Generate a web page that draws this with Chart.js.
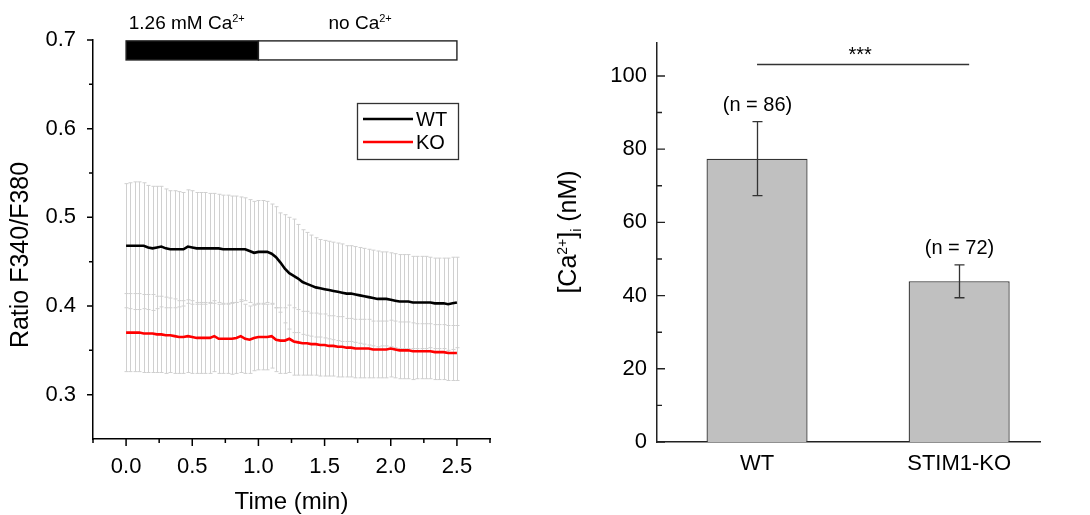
<!DOCTYPE html>
<html>
<head>
<meta charset="utf-8">
<script src="https://cdn.jsdelivr.net/npm/chart.js@4.4.0/dist/chart.umd.min.js"></script>
<style>
  html, body { margin: 0; padding: 0; background: #fff; }
  #wrap { position: relative; width: 1090px; height: 515px; }
  #left { position: absolute; left: 0; top: 0; }
  #right { position: absolute; left: 535px; top: 0; }
</style>
</head>
<body>
<div id="wrap">
  <canvas id="left" width="535" height="515"></canvas>
  <canvas id="right" width="555" height="515"></canvas>
</div>
<script>
const FONT = '"Liberation Sans", Arial, sans-serif';

// ---- trace: Fura-2 ratio, one sample every 2 s ----
const timeSec = [0,2,4,6,8,10,12,14,16,18,20,22,24,26,28,30,32,34,36,38,
  40,42,44,46,48,50,52,54,56,58,60,62,64,66,68,70,72,74,76,78,
  80,82,84,86,88,90,92,94,96,98,100,102,104,106,108,110,112,114,116,118,
  120,122,124,126,128,130,132,134,136,138,140,142,144,146,148,150];

const wtRatio = [.468,.468,.468,.468,.468,.466,.465,.466,.467,.465,
  .464,.464,.464,.464,.467,.466,.465,.465,.465,.465,
  .465,.465,.464,.464,.464,.464,.464,.464,.462,.460,
  .461,.461,.461,.459,.455,.449,.442,.437,.434,.431,
  .427,.425,.423,.421,.420,.419,.418,.417,.416,.415,
  .414,.414,.413,.412,.411,.410,.409,.408,.408,.408,
  .407,.406,.405,.405,.405,.404,.404,.404,.404,.404,
  .403,.403,.403,.402,.403,.404];
const wtSd = [.070,.071,.072,.072,.071,.070,.070,.069,.068,.067,
  .066,.066,.065,.064,.064,.064,.063,.063,.063,.062,
  .062,.061,.061,.061,.060,.060,.059,.058,.058,.058,
  .058,.058,.057,.056,.057,.056,.061,.063,.064,.061,
  .059,.058,.057,.056,.055,.055,.055,.055,.055,.055,
  .054,.054,.054,.054,.054,.054,.054,.054,.053,.053,
  .053,.053,.053,.053,.053,.052,.052,.052,.052,.051,
  .051,.051,.051,.052,.052,.051];

const koRatio = [.370,.370,.370,.370,.369,.369,.369,.368,.368,.367,
  .367,.366,.365,.365,.366,.365,.364,.364,.364,.364,
  .366,.363,.363,.363,.363,.364,.366,.363,.362,.364,
  .365,.365,.365,.366,.362,.361,.361,.363,.360,.359,
  .358,.358,.357,.357,.356,.356,.355,.355,.354,.354,
  .353,.353,.352,.352,.352,.352,.351,.351,.351,.351,
  .352,.351,.350,.350,.350,.349,.349,.349,.349,.349,
  .348,.348,.348,.347,.347,.347];
const koSd = [.044,.044,.044,.044,.044,.044,.044,.043,.043,.043,
  .042,.042,.041,.041,.041,.041,.040,.040,.040,.040,
  .040,.039,.039,.039,.040,.040,.041,.039,.038,.037,
  .037,.037,.037,.036,.036,.037,.037,.038,.038,.037,
  .036,.036,.035,.035,.035,.035,.034,.034,.034,.034,
  .033,.033,.033,.033,.033,.033,.032,.032,.032,.032,
  .032,.032,.032,.032,.032,.032,.031,.031,.031,.031,
  .031,.031,.031,.031,.031,.031];

const timeTicks = [0, 0.5, 1.0, 1.5, 2.0, 2.5];
const ratioTicks = [0.3, 0.4, 0.5, 0.6, 0.7];

// bath solution (min)
const solutionNames = ['1.26 mM Ca', 'no Ca'];
const solutionStart = [0, 1.0];
const solutionEnd = [1.0, 2.5];

// ---- resting [Ca2+]i ----
const groups = ['WT', 'STIM1-KO'];
const caMean = [77.4, 43.9];
const caSd = [10.1, 4.5];
const caN = [86, 72];
const caTicks = [0, 20, 40, 60, 80, 100];
const sigLevel = 103.3;
const sigLabel = '***';

// text with super/subscripts; parts = [[text, 'sup'|'sub'|'']]
function richText(ctx, parts, x, y, size, opts) {
  const o = Object.assign({ align: 'center', rise: 5, drop: 4, rotate: false }, opts);
  ctx.save();
  ctx.translate(x, y);
  if (o.rotate) ctx.rotate(-Math.PI / 2);
  const small = Math.round(size * 0.58);
  const fontOf = p => (p[1] ? small : size) + 'px ' + FONT;
  let w = 0;
  for (const p of parts) { ctx.font = fontOf(p); w += ctx.measureText(p[0]).width; }
  let cx = o.align === 'center' ? -w / 2 : 0;
  ctx.textAlign = 'left';
  ctx.textBaseline = 'alphabetic';
  ctx.fillStyle = '#000';
  for (const p of parts) {
    ctx.font = fontOf(p);
    const dy = p[1] === 'sup' ? -o.rise : p[1] === 'sub' ? o.drop : 0;
    ctx.fillText(p[0], cx, dy);
    cx += ctx.measureText(p[0]).width;
  }
  ctx.restore();
}

function tickMarks(ctx, scale, values, len, dir) {
  ctx.beginPath();
  for (const v of values) {
    const p = scale.getPixelForValue(v);
    if (scale.isHorizontal()) {
      ctx.moveTo(p, scale.top); ctx.lineTo(p, scale.top + len * dir);
    } else {
      ctx.moveTo(scale.right, p); ctx.lineTo(scale.right + len * dir, p);
    }
  }
  ctx.stroke();
}

const traceDecor = {
  id: 'traceDecor',
  beforeDatasetsDraw(chart) {
    const { ctx, scales: { x, y } } = chart;
    ctx.save();
    ctx.strokeStyle = '#d0d0d0';
    ctx.lineWidth = 1;
    chart.data.datasets.forEach(ds => {
      ds.data.forEach((p, i) => {
        const px = Math.round(x.getPixelForValue(p.x)) + 0.5;
        const top = y.getPixelForValue(p.y + ds.sd[i]);
        const bot = y.getPixelForValue(p.y - ds.sd[i]);
        ctx.beginPath();
        ctx.moveTo(px, top); ctx.lineTo(px, bot);
        ctx.moveTo(px - 2, top); ctx.lineTo(px + 2, top);
        ctx.moveTo(px - 2, bot); ctx.lineTo(px + 2, bot);
        ctx.stroke();
      });
    });
    ctx.restore();
  },
  afterDraw(chart) {
    const { ctx, scales: { x, y } } = chart;
    ctx.save();
    ctx.strokeStyle = '#000';
    ctx.lineWidth = 1.5;
    tickMarks(ctx, x, timeTicks, 7, 1);
    tickMarks(ctx, x, [-0.25, 0.25, 0.75, 1.25, 1.75, 2.25, 2.75], 4, 1);
    tickMarks(ctx, y, ratioTicks, 6, -1);
    tickMarks(ctx, y, [0.35, 0.45, 0.55, 0.65], 4, -1);

    // solution bar
    const yT = y.getPixelForValue(0.699), yB = y.getPixelForValue(0.6775);
    solutionNames.forEach((name, i) => {
      const x0 = x.getPixelForValue(solutionStart[i]);
      const x1 = x.getPixelForValue(solutionEnd[i]);
      ctx.fillStyle = i === 0 ? '#000' : '#fff';
      ctx.fillRect(x0, yT, x1 - x0, yB - yT);
      ctx.strokeStyle = '#222';
      ctx.lineWidth = 1.4;
      ctx.strokeRect(x0, yT, x1 - x0, yB - yT);
    });
    const labelX = [x.getPixelForValue(0.02), x.getPixelForValue(1.53)];
    solutionNames.forEach((name, i) => {
      richText(ctx, [[name, ''], ['2+', 'sup']], labelX[i], 29, 19, { align: 'left', rise: 7 });
    });

    // legend
    ctx.strokeStyle = '#333';
    ctx.lineWidth = 1.3;
    ctx.strokeRect(357.5, 103.5, 101, 56);
    chart.data.datasets.forEach((ds, i) => {
      const ly = 119 + i * 23;
      ctx.strokeStyle = ds.borderColor;
      ctx.lineWidth = 2.6;
      ctx.beginPath(); ctx.moveTo(363, ly); ctx.lineTo(413, ly); ctx.stroke();
      ctx.fillStyle = '#000';
      ctx.font = '20px ' + FONT;
      ctx.textAlign = 'left';
      ctx.textBaseline = 'alphabetic';
      ctx.fillText(ds.label, 416, ly + 7);
    });

    // axis titles
    richText(ctx, [['Time (min)', '']], (chart.chartArea.left + chart.chartArea.right) / 2, 509, 24);
    richText(ctx, [['Ratio F340/F380', '']], 28, 255, 25, { rotate: true });
    ctx.restore();
  }
};

const barDecor = {
  id: 'barDecor',
  afterDraw(chart) {
    const { ctx, scales: { x, y } } = chart;
    ctx.save();
    ctx.strokeStyle = '#222';
    ctx.lineWidth = 1.4;
    tickMarks(ctx, y, caTicks, 8, 1);
    tickMarks(ctx, y, [10, 30, 50, 70, 90], 5, 1);

    // error bars and n labels
    ctx.strokeStyle = '#333';
    ctx.lineWidth = 1.3;
    caMean.forEach((m, i) => {
      const px = Math.round(x.getPixelForValue(i + 1)) + 0.5;
      const top = y.getPixelForValue(m + caSd[i]);
      const bot = y.getPixelForValue(m - caSd[i]);
      ctx.beginPath();
      ctx.moveTo(px, top); ctx.lineTo(px, bot);
      ctx.moveTo(px - 5, top); ctx.lineTo(px + 5, top);
      ctx.moveTo(px - 5, bot); ctx.lineTo(px + 5, bot);
      ctx.stroke();
      ctx.fillStyle = '#000';
      ctx.font = '20px ' + FONT;
      ctx.textAlign = 'center';
      ctx.textBaseline = 'middle';
      ctx.fillText('(n = ' + caN[i] + ')', px, top - 16);
    });

    // significance
    const sy = Math.round(y.getPixelForValue(sigLevel)) + 0.5;
    const sx0 = x.getPixelForValue(1), sx1 = x.getPixelForValue(2) + 10;
    ctx.beginPath(); ctx.moveTo(sx0, sy); ctx.lineTo(sx1, sy); ctx.stroke();
    ctx.font = '20px ' + FONT;
    ctx.textAlign = 'center';
    ctx.textBaseline = 'alphabetic';
    ctx.fillText(sigLabel, (sx0 + sx1) / 2 - 3, sy - 4);

    richText(ctx, [['[Ca', ''], ['2+', 'sup'], [']', ''], ['i', 'sub'], [' (nM)', '']],
      41, 232, 25, { rotate: true, rise: 9, drop: 5 });
    ctx.restore();
  }
};

const tickFont = { family: FONT, size: 22 };
const noGrid = { display: false, drawTicks: false };

new Chart(document.getElementById('left'), {
  type: 'line',
  data: {
    datasets: [
      { label: 'WT', data: timeSec.map((s, i) => ({ x: s / 60, y: wtRatio[i] })), sd: wtSd,
        borderColor: '#000000', borderWidth: 2.6, pointRadius: 0, tension: 0 },
      { label: 'KO', data: timeSec.map((s, i) => ({ x: s / 60, y: koRatio[i] })), sd: koSd,
        borderColor: '#ff0000', borderWidth: 2.6, pointRadius: 0, tension: 0 }
    ]
  },
  options: {
    responsive: false,
    animation: false,
    devicePixelRatio: 1,
    layout: { padding: { top: 40, right: 45, left: 0, bottom: 0 } },
    plugins: { legend: { display: false }, tooltip: { enabled: false } },
    scales: {
      x: {
        type: 'linear', min: -0.25, max: 2.75,
        grid: noGrid,
        border: { display: true, color: '#000', width: 1.5 },
        ticks: { font: tickFont, color: '#000', padding: 15, maxRotation: 0, autoSkip: false,
          callback: v => v.toFixed(1) },
        afterBuildTicks: s => { s.ticks = timeTicks.map(v => ({ value: v })); },
        afterFit: s => { s.height = 76; }
      },
      y: {
        min: 0.25, max: 0.7,
        grid: noGrid,
        border: { display: true, color: '#000', width: 1.5 },
        ticks: { font: tickFont, color: '#000', padding: 17, autoSkip: false,
          callback: v => v.toFixed(1) },
        afterBuildTicks: s => { s.ticks = ratioTicks.map(v => ({ value: v })); },
        afterFit: s => { s.width = 93; }
      }
    }
  },
  plugins: [traceDecor]
});

new Chart(document.getElementById('right'), {
  type: 'bar',
  data: {
    datasets: [{
      label: '[Ca2+]i',
      data: caMean.map((m, i) => ({ x: i + 1, y: m })),
      backgroundColor: '#c0c0c0',
      borderColor: '#333',
      borderWidth: 1.3,
      barPercentage: 0.5,
      categoryPercentage: 1.0
    }]
  },
  options: {
    responsive: false,
    animation: false,
    devicePixelRatio: 1,
    layout: { padding: { top: 43, right: 50, left: 0, bottom: 0 } },
    plugins: { legend: { display: false }, tooltip: { enabled: false } },
    scales: {
      x: {
        type: 'linear', min: 0.505, max: 2.4, offset: false,
        grid: noGrid,
        border: { display: true, color: '#222', width: 1.5 },
        ticks: { font: tickFont, color: '#000', padding: 9, maxRotation: 0, autoSkip: false,
          callback: v => groups[v - 1] },
        afterBuildTicks: s => { s.ticks = groups.map((g, i) => ({ value: i + 1 })); },
        afterFit: s => { s.height = 73; }
      },
      y: {
        min: 0, max: 109,
        grid: noGrid,
        border: { display: true, color: '#222', width: 1.5 },
        ticks: { font: tickFont, color: '#000', padding: 10, autoSkip: false },
        afterBuildTicks: s => { s.ticks = caTicks.map(v => ({ value: v })); },
        afterFit: s => { s.width = 122; }
      }
    }
  },
  plugins: [barDecor]
});
</script>
</body>
</html>
